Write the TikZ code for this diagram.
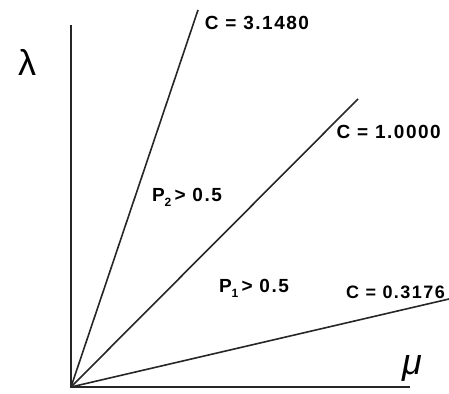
\documentclass[tikz,border=0pt]{standalone}
\usepackage{fontspec}
\setsansfont{Liberation Sans}[LetterSpace=8]
\newfontfamily\greekfont{Liberation Sans}
\begin{document}
\begin{tikzpicture}[x=1pt,y=-1pt,
  axis/.style={line width=2.6pt,black!85},
  ray/.style={line width=1.6pt,black!85},
  lbl/.style={font=\sffamily\bfseries\fontsize{19}{21}\selectfont,inner sep=0pt},
  sym/.style={inner sep=0pt,font=\greekfont\fontsize{36}{38}\selectfont}]
\useasboundingbox (0,0) rectangle (449,393);
\coordinate (O) at (71,387);
\coordinate (ytop) at (71,25);
\coordinate (xend) at (410,387);
\coordinate (c3) at (198,10);
\coordinate (c1) at (358,99);
\coordinate (c0) at (449,299);
\draw[axis] (ytop) -- (O) -- (xend);
\draw[ray] (O) -- (c3);
\draw[ray] (O) -- (c1);
\draw[ray] (O) -- (c0);
\node[sym] (lam) at (27,62) {λ};
\node[sym] (mu) at (412,368) {\itshape μ};
\node[lbl] (l3) at (257,23) {C = 3.1480};
\node[lbl,anchor=east] (l1) at (441,132) {C = 1.0000};
\node[lbl,anchor=east,font=\sffamily\bfseries\fontsize{18}{20}\selectfont] (l0) at (445,292) {C = 0.3176};
\node[lbl] (p2) at (187,197) {P\raisebox{-5pt}{\fontsize{12}{13}\selectfont 2}\,> 0.5};
\node[lbl] (p1) at (254,288) {P\raisebox{-5pt}{\fontsize{12}{13}\selectfont 1}\,> 0.5};
\end{tikzpicture}
\end{document}
